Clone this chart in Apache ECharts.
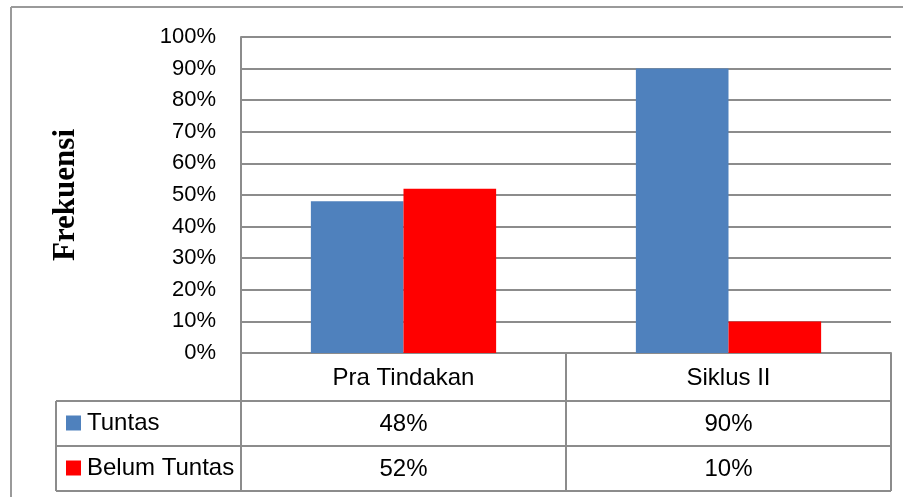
<!DOCTYPE html>
<html>
<head>
<meta charset="utf-8">
<script src="https://cdn.jsdelivr.net/npm/echarts@6/dist/echarts.min.js"></script>
<style>
html, body { margin: 0; padding: 0; background: #fff; }
#chart1 { width: 907px; height: 497px; }
</style>
</head>
<body>
<div id="chart1"></div>
<script>
var categories = ['Pra Tindakan', 'Siklus II'];
var seriesNames = ['Tuntas', 'Belum Tuntas'];
var tuntas = [48, 90];
var belumTuntas = [52, 10];
var yTicks = [0, 10, 20, 30, 40, 50, 60, 70, 80, 90, 100];

var lineColor = '#8c8c8c';
var labelFont = 'Liberation Sans';
var tableFontSize = 24;
// plot area & data table rows (pixels)
var gLeft = 241, gRight = 891, gTop = 37, gBottom = 353;
var row1 = 401, row2 = 446, row3 = 491, legendLeft = 56;

var myChart1 = echarts.init(document.getElementById('chart1'));

function legendRow(name, top) {
    return {
        data: [name],
        left: legendLeft + 10,
        top: top,
        padding: 0,
        itemWidth: 15,
        itemHeight: 15,
        itemGap: 0,
        icon: 'rect',
        selectedMode: false,
        textStyle: {
            fontFamily: labelFont,
            fontSize: tableFontSize,
            color: '#000',
            padding: [0, 0, 0, 1]
        }
    };
}

function valueAxis(values, offset) {
    return {
        type: 'category',
        data: categories,
        position: 'bottom',
        offset: offset,
        axisLine: { show: false },
        axisTick: { show: false },
        axisLabel: {
            margin: 0,
            fontFamily: labelFont,
            fontSize: tableFontSize,
            color: '#000',
            formatter: function (v, i) { return values[i] + '%'; }
        }
    };
}

myChart1.setOption(option = {
    animation: false,
    backgroundColor: '#fff',
    grid: {
        left: gLeft,
        right: 907 - gRight,
        top: gTop,
        bottom: 497 - gBottom
    },
    legend: [
        legendRow(seriesNames[0], row1 + 10),
        legendRow(seriesNames[1], row2 + 10)
    ],
    xAxis: [
        {
            type: 'category',
            data: categories,
            axisLine: { lineStyle: { color: lineColor, width: 2 } },
            axisTick: {
                show: true,
                length: row3 - gBottom,
                lineStyle: { color: lineColor, width: 2 }
            },
            axisLabel: {
                margin: 13,
                fontFamily: labelFont,
                fontSize: tableFontSize,
                color: '#000'
            }
        },
        valueAxis(tuntas, row1 - gBottom + 11),
        valueAxis(belumTuntas, row2 - gBottom + 11)
    ],
    yAxis: {
        type: 'value',
        min: yTicks[0],
        max: yTicks[yTicks.length - 1],
        interval: 10,
        name: 'Frekuensi',
        nameLocation: 'middle',
        nameRotate: 90,
        nameGap: 160,
        nameTextStyle: {
            fontFamily: 'Liberation Serif',
            fontWeight: 'bold',
            fontSize: 31,
            color: '#000'
        },
        axisLine: { show: true, lineStyle: { color: lineColor, width: 2 } },
        axisTick: { show: false },
        axisLabel: {
            margin: 25,
            fontFamily: labelFont,
            fontSize: 22,
            color: '#000',
            formatter: '{value}%'
        },
        splitLine: { lineStyle: { color: lineColor, width: 2 } }
    },
    series: [
        {
            name: seriesNames[0],
            type: 'bar',
            data: tuntas,
            barGap: '0%',
            barCategoryGap: '43%',
            itemStyle: { color: '#4f81bd' }
        },
        {
            name: seriesNames[1],
            type: 'bar',
            data: belumTuntas,
            barGap: '0%',
            barCategoryGap: '43%',
            itemStyle: { color: '#ff0000' }
        }
    ],
    graphic: [
        // outer chart frame
        { type: 'line', shape: { x1: 11, y1: 7, x2: 903, y2: 7 }, style: { stroke: '#9a9a9a', lineWidth: 2 } },
        { type: 'line', shape: { x1: 11, y1: 7, x2: 11, y2: 497 }, style: { stroke: '#9a9a9a', lineWidth: 2 } },
        // data table
        { type: 'line', shape: { x1: legendLeft, y1: row1, x2: gRight, y2: row1 }, style: { stroke: lineColor, lineWidth: 2 } },
        { type: 'line', shape: { x1: legendLeft, y1: row2, x2: gRight, y2: row2 }, style: { stroke: lineColor, lineWidth: 2 } },
        { type: 'line', shape: { x1: legendLeft, y1: row3, x2: gRight, y2: row3 }, style: { stroke: lineColor, lineWidth: 2 } },
        { type: 'line', shape: { x1: legendLeft, y1: row1, x2: legendLeft, y2: row3 }, style: { stroke: lineColor, lineWidth: 2 } }
    ]
});

window.onresize = function () {
    myChart1.resize();
}
</script>
</body>
</html>
